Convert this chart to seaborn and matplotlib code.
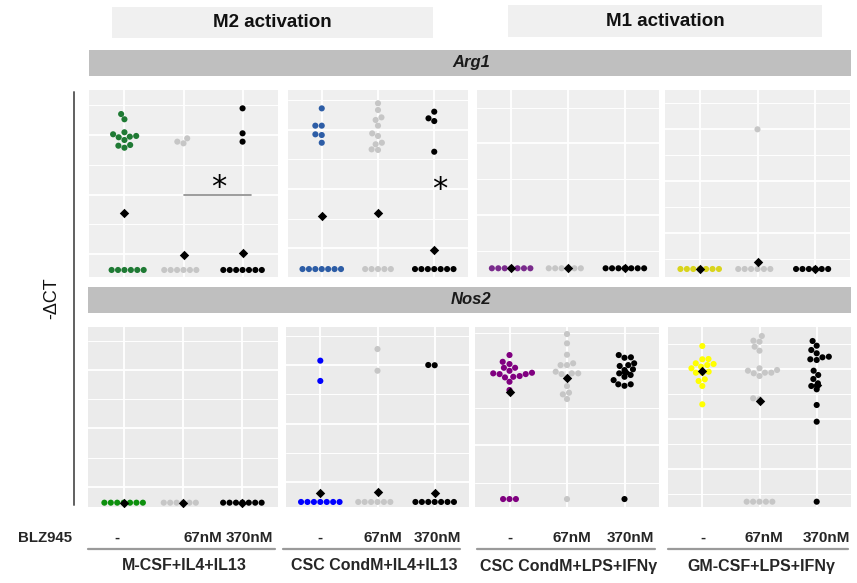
import matplotlib
matplotlib.use("Agg")
import matplotlib.pyplot as plt
from matplotlib.patches import Rectangle
from matplotlib.lines import Line2D
import pandas as pd
import seaborn as sns

# ---------------------------------------------------------------- data
doses = ["-", "67nM", "370nM"]
conditions = ["M-CSF+IL4+IL13", "CSC CondM+IL4+IL13",
              "CSC CondM+LPS+IFNγ", "GM-CSF+LPS+IFNγ"]
activations = ["M2 activation", "M1 activation"]
genes = ["Arg1", "Nos2"]

# -ΔCT values, Arg1
arg1_mcsf_none = [-3.68, -3.24, -4.77, -5.42, -5.14, -4.94, -5.19, -5.08, -5.84, -6.07, -5.90,
                  -16.34, -16.34, -16.34, -16.34, -16.34, -16.34]
arg1_mcsf_67 = [-5.28, -5.70, -5.56, -16.34, -16.34, -16.34, -16.34, -16.34, -16.34]
arg1_mcsf_370 = [-2.76, -4.86, -5.56, -16.34, -16.34, -16.34, -16.34, -16.34, -16.34, -16.34]

arg1_cscil_none = [-3.19, -4.65, -4.65, -5.38, -5.44, -6.09,
                   -16.75, -16.75, -16.75, -16.75, -16.75, -16.75, -16.75]
arg1_cscil_67 = [-2.76, -3.33, -3.95, -4.17, -4.65, -5.52, -5.30, -6.22, -6.09, -6.65, -6.70,
                 -16.75, -16.75, -16.75, -16.75, -16.75]
arg1_cscil_370 = [-3.47, -4.03, -4.26, -6.85,
                  -16.75, -16.75, -16.75, -16.75, -16.75, -16.75, -16.75]

arg1_csclps_none = [-18.73, -18.73, -18.73, -18.73, -18.73, -18.73, -18.73]
arg1_csclps_67 = [-18.73, -18.73, -18.73, -18.73, -18.73, -18.73]
arg1_csclps_370 = [-18.73, -18.73, -18.73, -18.73, -18.73, -18.73, -18.73]

arg1_gmcsf_none = [-18.43, -18.43, -18.43, -18.43, -18.43, -18.43, -18.43]
arg1_gmcsf_67 = [-5.00, -18.43, -18.43, -18.43, -18.43, -18.43, -18.43]
arg1_gmcsf_370 = [-18.43, -18.43, -18.43, -18.43, -18.43, -18.43]

# -ΔCT values, Nos2
nos2_mcsf_none = [-16.37, -16.37, -16.37, -16.37, -16.37, -16.37, -16.37]
nos2_mcsf_67 = [-16.37, -16.37, -16.37, -16.37, -16.37, -16.37]
nos2_mcsf_370 = [-16.37, -16.37, -16.37, -16.37, -16.37, -16.37, -16.37]

nos2_cscil_none = [-4.63, -6.36, -16.68, -16.68, -16.68, -16.68, -16.68, -16.68, -16.68]
nos2_cscil_67 = [-3.64, -5.49, -16.68, -16.68, -16.68, -16.68, -16.68, -16.68]
nos2_cscil_370 = [-5.00, -5.02, -16.68, -16.68, -16.68, -16.68, -16.68, -16.68, -16.68]

nos2_csclps_none = [-9.00, -9.45, -9.60, -9.85, -9.85, -10.05, -10.22, -10.18, -10.27, -10.27,
                    -10.40, -10.45, -10.49, -10.78, -11.33, -18.60, -18.60, -18.60]
nos2_csclps_67 = [-7.60, -8.22, -8.98, -9.67, -9.67, -9.55, -10.11, -10.22, -10.22, -10.27,
                  -10.49, -11.07, -11.51, -11.62, -11.93, -18.60]
nos2_csclps_370 = [-9.15, -9.00, -9.18, -9.67, -9.73, -9.55, -9.95, -10.22, -10.00, -10.33,
                   -10.45, -10.67, -10.95, -10.95, -11.05, -18.60]

nos2_gmcsf_none = [-2.70, -4.00, -4.03, -4.60, -4.50, -4.43, -4.77, -4.93, -5.37, -5.27,
                   -5.37, -6.20, -6.03, -6.70, -8.53]
nos2_gmcsf_67 = [-1.70, -2.17, -2.27, -2.77, -3.17, -4.93, -5.10, -5.37, -5.17, -5.43, -5.37,
                 -5.70, -7.93, -8.03, -18.27, -18.27, -18.27, -18.27, -18.27]
nos2_gmcsf_370 = [-2.20, -2.67, -3.10, -3.43, -3.77, -4.10, -4.03, -3.83, -5.17, -5.60, -6.43,
                  -6.00, -7.03, -6.70, -8.60, -10.27, -18.27]

# group means (diamonds), in dose order
arg1_means = [[-11.55, -15.10, -14.89],
              [-12.27, -12.02, -15.12],
              [-18.73, -18.73, -18.73],
              [-18.43, -17.73, -18.43]]
nos2_means = [[-16.37, -16.37, -16.37],
              [-15.94, -15.85, -15.89],
              [-11.49, -10.51, -10.10],
              [-5.17, -8.20, -6.60]]

arg1_groups = [[arg1_mcsf_none, arg1_mcsf_67, arg1_mcsf_370],
               [arg1_cscil_none, arg1_cscil_67, arg1_cscil_370],
               [arg1_csclps_none, arg1_csclps_67, arg1_csclps_370],
               [arg1_gmcsf_none, arg1_gmcsf_67, arg1_gmcsf_370]]
nos2_groups = [[nos2_mcsf_none, nos2_mcsf_67, nos2_mcsf_370],
               [nos2_cscil_none, nos2_cscil_67, nos2_cscil_370],
               [nos2_csclps_none, nos2_csclps_67, nos2_csclps_370],
               [nos2_gmcsf_none, nos2_gmcsf_67, nos2_gmcsf_370]]

# ---------------------------------------------------------------- style
W, H = 857, 583
arg1_colors = ["#1f7a34", "#2d5da6", "#7a2b8c", "#d9d41c"]
nos2_colors = ["#0d900d", "#0000ff", "#800080", "#ffff00"]
GRAY, BLACK = "#c6c6c6", "#000000"

# panel boxes in pixels: left, top, right, bottom
arg1_boxes = [(89, 90, 278, 277), (288, 90, 468, 277), (477, 90, 659, 277), (665, 90, 850, 277)]
nos2_boxes = [(88, 327, 278, 507), (286, 327, 469, 507), (475, 327, 659, 507), (668, 327, 851, 507)]

# free y scales: limits, major and minor breaks
arg1_scales = [((-16.93, -1.22), [-15, -10, -5], [-12.5, -7.5, -2.5]),
               ((-17.42, -1.64), [-15, -10, -5], [-12.5, -7.5, -2.5]),
               ((-19.34, -6.26), [-15, -10], [-17.5, -12.5, -7.5]),
               ((-19.2, -1.22), [-15, -10, -5], [-17.5, -12.5, -7.5, -2.5])]
nos2_scales = [((-16.74, -1.32), [-15, -10, -5], [-12.5, -7.5, -2.5]),
               ((-17.11, -1.76), [-15, -10, -5], [-12.5, -7.5, -2.5]),
               ((-19.13, -7.13), [-15, -10], [-17.5, -12.5, -7.5]),
               ((-18.8, -0.8), [-15, -10, -5], [-17.5, -12.5, -7.5, -2.5])]

FONT = ["Liberation Sans", "DejaVu Sans"]
sns.set_theme(style="white")
plt.rcParams["font.family"] = FONT

fig = plt.figure(figsize=(W / 100, H / 100), dpi=100)
fig.patch.set_facecolor("white")


def fx(x):
    return x / W


def fy(y):
    return 1 - y / H


def add_panel(box, values, means, col, scale, bg):
    l, t, r, b = box
    ax = fig.add_axes([fx(l), fy(b), (r - l) / W, (b - t) / H])
    ax.set_facecolor(bg)
    df = pd.DataFrame({
        "dose": [d for d, vals in zip(doses, values) for _ in vals],
        "value": [v for vals in values for v in vals],
    })
    sns.swarmplot(data=df, x="dose", y="value", hue="dose", order=doses,
                  hue_order=doses, palette=[col, GRAY, BLACK], size=4.4,
                  linewidth=0, legend=False, ax=ax, zorder=3, warn_thresh=1)
    mdf = pd.DataFrame({"dose": doses, "mean": means})
    sns.stripplot(data=mdf, x="dose", y="mean", order=doses, jitter=False,
                  marker="D", color=BLACK, size=4.8, linewidth=0, ax=ax, zorder=5)
    (ylim, majors, minors) = scale
    ax.set_xlim(-0.6, 2.6)
    ax.set_ylim(*ylim)
    ax.set_yticks(majors)
    ax.set_yticks(minors, minor=True)
    ax.set_xticks([0, 1, 2])
    ax.grid(which="major", color="white", linewidth=1.3)
    ax.grid(which="minor", axis="y", color="white", linewidth=0.7)
    ax.set_axisbelow(True)
    ax.tick_params(which="both", length=0, labelbottom=False, labelleft=False)
    ax.set_xlabel("")
    ax.set_ylabel("")
    for s in ax.spines.values():
        s.set_visible(False)
    return ax


arg1_axes = [add_panel(arg1_boxes[i], arg1_groups[i], arg1_means[i], arg1_colors[i],
                       arg1_scales[i], "#efefef") for i in range(4)]
nos2_axes = [add_panel(nos2_boxes[i], nos2_groups[i], nos2_means[i], nos2_colors[i],
                       nos2_scales[i], "#ebebeb") for i in range(4)]

# significance marks
a = arg1_axes[0]
a.plot([1.0, 2.15], [-10.0, -10.0], color="#8c8c8c", linewidth=1.2, zorder=4)
a.text(1.6, -9.4, "*", ha="center", va="center", fontsize=22, color="black",
       family="DejaVu Sans")
arg1_axes[1].text(2.09, -10.0, "*", ha="center", va="center", fontsize=22,
                  color="black", family="DejaVu Sans")

# activation headers
for (l, t, r, b), label in zip([(112, 7, 433, 38), (508, 5, 822, 37)], activations):
    fig.patches.append(Rectangle((fx(l), fy(b)), (r - l) / W, (b - t) / H,
                                 transform=fig.transFigure, facecolor="#f0f0f0",
                                 edgecolor="none"))
    fig.text(fx((l + r) / 2), fy((t + b) / 2), label, ha="center", va="center",
             fontsize=13.5, fontweight="bold", color="#111111")

# gene strips
for (l, t, r, b), gene in zip([(89, 50, 851, 76), (88, 287, 851, 313)], genes):
    fig.patches.append(Rectangle((fx(l), fy(b)), (r - l) / W, (b - t) / H,
                                 transform=fig.transFigure, facecolor="#bfbfbf",
                                 edgecolor="none"))
    fig.text(fx(471), fy((t + b) / 2), gene, ha="center", va="center",
             fontsize=12, fontweight="bold", style="italic", color="#1a1a1a")

# y axis line and label
fig.add_artist(Line2D([fx(74), fx(74)], [fy(92), fy(505)], color="#606060",
                      linewidth=1.4, transform=fig.transFigure))
fig.text(fx(52), fy(298), "-ΔCT", rotation=90, ha="center", va="center",
         fontsize=13, color="#111111")

# dose labels, condition brackets
fig.text(fx(45), fy(538), "BLZ945", ha="center", va="center", fontsize=10.8,
         fontweight="bold")
dose_x = [[117, 203, 249], [320, 383, 437], [510, 572, 630], [703, 764, 826]]
bracket_x = [(88, 275), (283, 460), (477, 655), (668, 848)]
for i in range(4):
    for xpos, d in zip(dose_x[i], doses):
        fig.text(fx(xpos), fy(538), d, ha="center", va="center", fontsize=11,
                 fontweight="bold")
    x0, x1 = bracket_x[i]
    fig.add_artist(Line2D([fx(x0), fx(x1)], [fy(549), fy(549)], color="#9a9a9a",
                          linewidth=1.6, transform=fig.transFigure))
    fig.text(fx((x0 + x1) / 2 + 3), fy(566), conditions[i], ha="center", va="center",
             fontsize=11.5, fontweight="bold")

fig.savefig("out.png", dpi=100)
